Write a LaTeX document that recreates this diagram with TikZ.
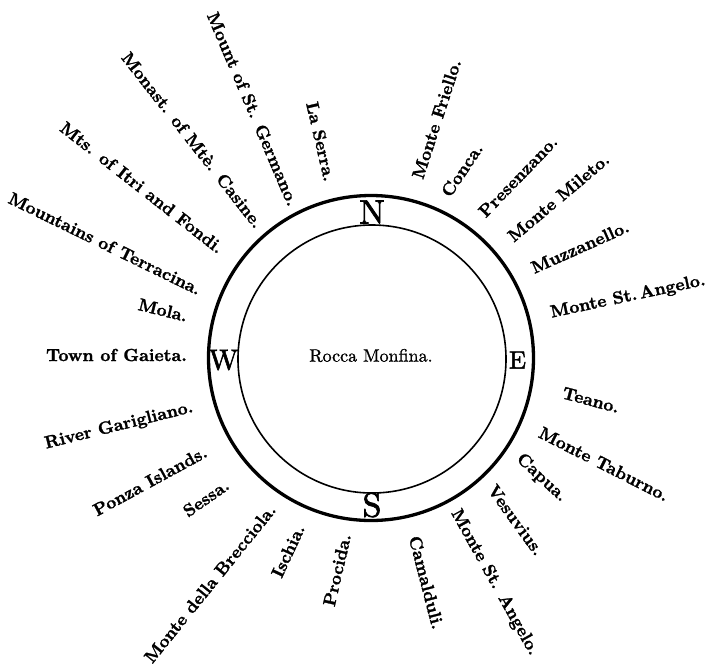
\documentclass[tikz,border=0pt]{standalone}
\usepackage{fontspec}
\newfontface\lblfont{lmroman10-bold.otf}[FakeBold=1.5]
\newfontface\regfont{lmroman10-regular.otf}[FakeBold=1.2]
\newfontface\cardfont{lmroman10-regular.otf}[FakeBold=2]
\begin{document}
\begin{tikzpicture}[x=1pt,y=-1pt,
  lbl/.style={font=\fontsize{17.5}{20}\lblfont, inner sep=0pt, anchor=center},
  cardinal/.style={inner sep=0pt, anchor=center},
  ring/.style={draw=black}]
\useasboundingbox (0,0) rectangle (706,665);
\coordinate (c) at (371,358);
\draw[ring, line width=3.3pt] (c) circle[radius=162.5pt];
\draw[ring, line width=1.6pt] (372,359) circle[radius=134pt];
% cardinal points
\node[cardinal, font=\fontsize{34}{34}\cardfont] (N) at (372,212) {N};
\node[cardinal, font=\fontsize{34}{34}\cardfont] (S) at (372,505) {S};
\node[cardinal, font=\fontsize{29}{29}\cardfont] (W) at (223.5,360) {W};
\node[cardinal, font=\fontsize{25}{25}\cardfont] (E) at (517.5,360) {E};
% centre
\node[inner sep=0pt, font=\fontsize{18}{20}\regfont] (rocca) at (371,355.5) {Rocca Monfina.};
% left side labels (read towards the centre)
\node[lbl, rotate=-67] (germano) at (253,109) {Mount of St. Germano.};
\node[lbl, rotate=-77] (serra) at (321,141.5) {La Serra.};
\node[lbl, rotate=-52] (casine) at (192.5,140) {Monast. of Mtè. Casine.};
\node[lbl, rotate=-38] (fondi) at (142,187.5) {Mts. of Itri and Fondi.};
\node[lbl, rotate=-26] (terracina) at (105,243.5) {Mountains of Terracina.};
\node[lbl, rotate=-14] (mola) at (163,310) {Mola.};
\node[lbl, rotate=0] (gaieta) at (116.5,355) {Town of Gaieta.};
\node[lbl, rotate=14] (garigliano) at (119,426) {River Garigliano.};
\node[lbl, rotate=28.5] (ponza) at (150,481) {Ponza Islands.};
\node[lbl, rotate=35] (sessa) at (206,498) {Sessa.};
\node[lbl, rotate=51] (brecciola) at (210,583.5) {Monte della Brecciola.};
\node[lbl, rotate=65] (ischia) at (288,551) {Ischia.};
\node[lbl, rotate=77] (procida) at (337,570) {Procida.};
% right side labels (read outwards)
\node[lbl, rotate=72] (friello) at (436.5,119) {Monte Friello.};
\node[lbl, rotate=56] (conca) at (462,170) {Conca.};
\node[lbl, rotate=46] (presenzano) at (518,176.5) {Presenzano.};
\node[lbl, rotate=40] (mileto) at (558.5,197.5) {Monte Mileto.};
\node[lbl, rotate=24] (muzzanello) at (580,247) {Muzzanello.};
\node[lbl, rotate=12] (angeloE) at (628,297) {Monte St.\,Angelo.};
\node[lbl, rotate=-15] (teano) at (591,400) {Teano.};
\node[lbl, rotate=-27] (taburno) at (604,464) {Monte Taburno.};
\node[lbl, rotate=-43] (capua) at (541.5,478) {Capua.};
\node[lbl, rotate=-54] (vesuvius) at (516,520) {Vesuvius.};
\node[lbl, rotate=-61] (angeloS) at (494.5,582.5) {Monte St. Angelo.};
\node[lbl, rotate=-75.5] (camalduli) at (426.5,582.5) {Camalduli.};
\end{tikzpicture}
\end{document}
